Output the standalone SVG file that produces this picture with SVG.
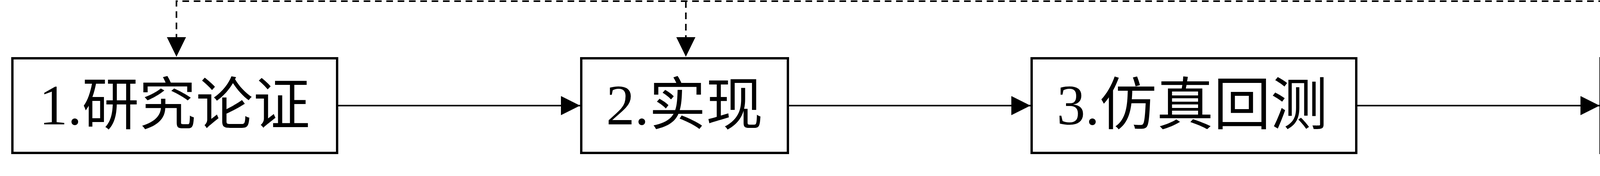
<svg xmlns="http://www.w3.org/2000/svg" width="6104" height="450" viewBox="0 0 6104 450">
<style>
.box{fill:#fff;stroke:#000;stroke-width:6;stroke-linejoin:miter}
.lbl{font-family:"Liberation Serif","Noto Sans CJK SC",serif;font-size:146px;fill:#000;text-anchor:middle}
.flow{fill:none;stroke:#000;stroke-width:4}
.fb{fill:none;stroke:#000;stroke-width:4;stroke-dasharray:17 12}
</style>
<defs>
<marker id="ah" markerUnits="userSpaceOnUse" markerWidth="50" markerHeight="50" refX="49" refY="24.5" orient="auto">
<path d="M0,0 L49,24.5 L0,49 Z" fill="#000"/>
</marker>
</defs>
<rect width="6104" height="450" fill="#fff"/>
<g id="connectors">
<line class="flow" x1="866" y1="270" x2="1485" y2="270" marker-end="url(#ah)"/>
<line class="flow" x1="2020" y1="270" x2="2638" y2="270" marker-end="url(#ah)"/>
<line class="flow" x1="3475" y1="270" x2="4095" y2="270" marker-end="url(#ah)"/>
<line class="flow" x1="4628" y1="270" x2="5247" y2="270" marker-end="url(#ah)"/>
<path class="fb" d="M5670,153 L5670,3 L451.7,3 L451.7,144"/>
<path class="fb" d="M1755.8,3 L1755.8,144"/>
<path d="M427.2,95 L476.2,95 L451.7,145 Z" fill="#000"/>
<path d="M1731.3,95 L1780.3,95 L1755.8,145 Z" fill="#000"/>
</g>
<g id="node1">
<rect class="box" x="31.7" y="149" width="831.3" height="242"/>
<text class="lbl" x="447" y="318">1.研究论证</text>
</g>
<g id="node2">
<rect class="box" x="1488" y="149" width="529" height="242"/>
<text class="lbl" x="1752.5" y="318">2.实现</text>
</g>
<g id="node3">
<rect class="box" x="2641" y="149" width="831" height="242"/>
<text class="lbl" x="3052" y="318">3.仿真回测</text>
</g>
<g id="node4">
<rect class="box" x="4097.5" y="149" width="527.5" height="242"/>
<text class="lbl" x="4360" y="318">4.执行</text>
</g>
<g id="node5">
<rect class="box" x="5250" y="149" width="832" height="242"/>
<text class="lbl" x="5663" y="318">5.结果评估</text>
</g>
</svg>
